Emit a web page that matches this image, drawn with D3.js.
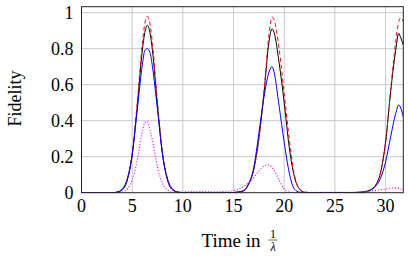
<!DOCTYPE html>
<html>
<head>
<meta charset="utf-8">
<script src="https://cdn.jsdelivr.net/npm/d3@7"></script>
<style>
  html, body { margin: 0; padding: 0; background: #fff; }
  text { font-family: "Liberation Serif", "DejaVu Serif", serif; fill: #000; }
</style>
</head>
<body>
<div id="chart"></div>
<script>
// time samples (units of 1/lambda)
var times = [0, 1, 2, 3, 3.5, 4, 4.5, 5, 5.5, 6, 6.25, 6.5, 6.75, 7, 7.5, 8, 8.5, 9, 9.5, 10,
  11, 12, 13, 14, 15, 15.5, 16, 16.5, 17, 17.5, 18, 18.5, 18.8, 19, 19.5, 20, 20.5, 21, 21.5, 22,
  23, 24, 25, 26, 27, 27.5, 28, 28.5, 29, 29.5, 30, 30.5, 31, 31.3, 31.5, 31.75];

var fidBlack = [0, 0, 0, 0, 0.002, 0.015, 0.066, 0.21, 0.48, 0.79, 0.89, 0.93, 0.89, 0.79, 0.48, 0.21, 0.066, 0.015, 0.003, 0,
  0, 0, 0, 0, 0.001, 0.004, 0.01, 0.05, 0.13, 0.30, 0.55, 0.84, 0.91, 0.89, 0.72, 0.50, 0.25, 0.09, 0.02, 0.003,
  0, 0, 0, 0, 0.001, 0.002, 0.005, 0.015, 0.04, 0.11, 0.28, 0.56, 0.79, 0.885, 0.86, 0.82];

var fidRed = [0, 0, 0, 0, 0.002, 0.015, 0.07, 0.22, 0.50, 0.83, 0.94, 0.98, 0.94, 0.83, 0.50, 0.22, 0.07, 0.015, 0.003, 0,
  0, 0, 0, 0, 0.001, 0.004, 0.01, 0.05, 0.13, 0.30, 0.56, 0.88, 0.975, 0.96, 0.80, 0.55, 0.30, 0.10, 0.02, 0.003,
  0, 0, 0, 0, 0.001, 0.002, 0.005, 0.015, 0.04, 0.11, 0.28, 0.57, 0.84, 0.95, 0.97, 0.95];

var fidBlue = [0, 0, 0, 0, 0.004, 0.02, 0.075, 0.21, 0.46, 0.71, 0.79, 0.80, 0.78, 0.70, 0.46, 0.21, 0.075, 0.02, 0.004, 0.001,
  0, 0, 0, 0, 0.001, 0.004, 0.012, 0.05, 0.14, 0.33, 0.53, 0.67, 0.70, 0.67, 0.48, 0.28, 0.11, 0.02, 0.003, 0,
  0, 0, 0, 0, 0.001, 0.003, 0.006, 0.015, 0.035, 0.08, 0.17, 0.31, 0.44, 0.487, 0.47, 0.42];

var fidMagenta = [0, 0, 0, 0, 0, 0.003, 0.02, 0.07, 0.18, 0.34, 0.39, 0.395, 0.35, 0.29, 0.14, 0.05, 0.015, 0.003, 0.002, 0.004,
  0.006, 0.006, 0.005, 0.006, 0.012, 0.02, 0.035, 0.055, 0.085, 0.12, 0.148, 0.155, 0.14, 0.125, 0.07, 0.02, 0.003, 0.001, 0.001, 0.001,
  0.002, 0.002, 0.002, 0.002, 0.003, 0.004, 0.006, 0.009, 0.013, 0.016, 0.02, 0.026, 0.027, 0.024, 0.02, 0.012];

var xTicks = [0, 5, 10, 15, 20, 25, 30];
var yTicks = [0, 0.2, 0.4, 0.6, 0.8, 1];
var yTickLabels = ["0", "0.2", "0.4", "0.6", "0.8", "1"];

var W = 408, H = 272;
var margin = { left: 81.5, right: 4.7, top: 6.7, bottom: 79.3 };

var svg = d3.select("#chart").append("svg")
  .attr("width", W)
  .attr("height", H);

var x = d3.scaleLinear().domain([0, 31.75]).range([margin.left, W - margin.right]);
var y = d3.scaleLinear().domain([0, 1.033]).range([H - margin.bottom, margin.top]);

svg.append("defs").append("clipPath").attr("id", "plotclip")
  .append("rect")
  .attr("x", margin.left).attr("y", margin.top)
  .attr("width", W - margin.left - margin.right)
  .attr("height", H - margin.top - margin.bottom);

// grid
svg.append("g").selectAll("line").data(xTicks.filter(function(d) { return d > 0; }))
  .enter().append("line")
  .attr("x1", function(d) { return x(d); }).attr("x2", function(d) { return x(d); })
  .attr("y1", margin.top).attr("y2", H - margin.bottom)
  .attr("stroke", "#c4c4c4").attr("stroke-width", 0.9);

svg.append("g").selectAll("line").data(yTicks.filter(function(d) { return d > 0; }))
  .enter().append("line")
  .attr("x1", margin.left).attr("x2", W - margin.right)
  .attr("y1", function(d) { return y(d); }).attr("y2", function(d) { return y(d); })
  .attr("stroke", "#c4c4c4").attr("stroke-width", 0.9);

// curves
var series = [
  { vals: fidBlack, color: "#000000", dash: null, width: 1 },
  { vals: fidRed, color: "#ff0000", dash: "4,3", width: 1 },
  { vals: fidBlue, color: "#0000ff", dash: null, width: 1 },
  { vals: fidMagenta, color: "#ff00dd", dash: "1.1,1.8", width: 1.1 }
];

var line = d3.line()
  .x(function(d) { return x(d[0]); })
  .y(function(d) { return y(d[1]); })
  .curve(d3.curveMonotoneX);

var plot = svg.append("g").attr("clip-path", "url(#plotclip)");
series.forEach(function(s) {
  plot.append("path")
    .datum(times.map(function(t, i) { return [t, s.vals[i]]; }))
    .attr("d", line)
    .attr("fill", "none")
    .attr("stroke", s.color)
    .attr("stroke-width", s.width)
    .attr("stroke-dasharray", s.dash);
});

// frame
svg.append("rect")
  .attr("x", margin.left).attr("y", margin.top)
  .attr("width", W - margin.left - margin.right)
  .attr("height", H - margin.top - margin.bottom)
  .attr("fill", "none").attr("stroke", "#222").attr("stroke-width", 1);

// tick labels
svg.append("g").selectAll("text").data(xTicks)
  .enter().append("text")
  .attr("x", function(d) { return x(d); })
  .attr("y", 211.5)
  .attr("text-anchor", "middle")
  .attr("font-size", 18)
  .text(function(d) { return d; });

svg.append("g").selectAll("text").data(yTicks)
  .enter().append("text")
  .attr("x", 73.5)
  .attr("y", function(d) { return y(d) + 6; })
  .attr("text-anchor", "end")
  .attr("font-size", 18)
  .text(function(d, i) { return yTickLabels[i]; });

// axis labels
svg.append("text")
  .attr("transform", "translate(21," + 98.5 + ") rotate(-90)")
  .attr("text-anchor", "middle")
  .attr("font-size", 18)
  .text("Fidelity");

svg.append("text")
  .attr("x", 201.5)
  .attr("y", 246.7)
  .attr("font-size", 19)
  .text("Time in");

var frac = svg.append("g").attr("transform", "translate(273,0)");
frac.append("text").attr("x", 0).attr("y", 237.5).attr("text-anchor", "middle")
  .attr("font-size", 12).text("1");
frac.append("line").attr("x1", -4.5).attr("x2", 4.5).attr("y1", 240).attr("y2", 240)
  .attr("stroke", "#000").attr("stroke-width", 0.6);
frac.append("text").attr("x", 0).attr("y", 250.5).attr("text-anchor", "middle")
  .attr("font-size", 12).attr("font-style", "italic").text("λ");
</script>
</body>
</html>
